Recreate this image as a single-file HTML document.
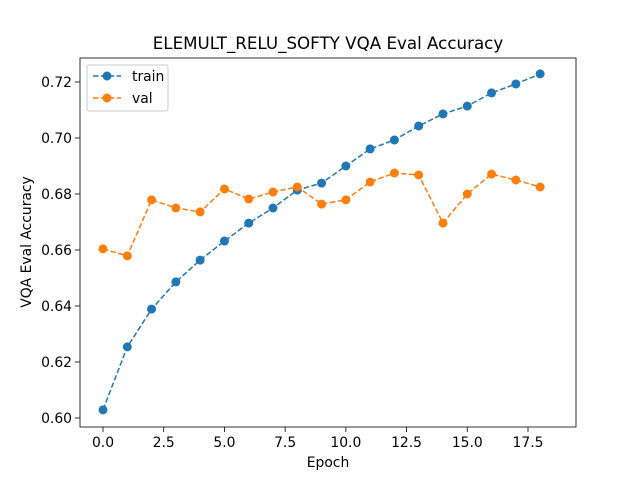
<!DOCTYPE html>
<html><head><meta charset="utf-8"><style>body{margin:0;background:#fff}svg{font-family:"DejaVu Sans","Liberation Sans",sans-serif}</style></head>
<body>
<svg id="chart" width="640" height="480" xmlns="http://www.w3.org/2000/svg">
<rect width="640" height="480" fill="#fff"/>
<text x="328" y="49" font-size="16.7" text-anchor="middle">ELEMULT_RELU_SOFTY VQA Eval Accuracy</text>
<g id="ticks"></g>
<g id="series"></g>
<rect x="80" y="58" width="496" height="369" fill="none" stroke="#000" stroke-width="0.8"/>
<text x="328" y="467" font-size="13.9" text-anchor="middle">Epoch</text>
<text x="31" y="242" font-size="13.9" text-anchor="middle" transform="rotate(-90 31 242)">VQA Eval Accuracy</text>
<g>
<rect x="87" y="65" width="81" height="46" rx="2" fill="#fff" fill-opacity="0.8" stroke="#ccc"/>
<g><line x1="93" y1="76" x2="121" y2="76" stroke="#1f77b4" stroke-width="1.5" stroke-dasharray="5.5,2.4"/><circle cx="107" cy="76" r="4.5" fill="#1f77b4"/><text x="132" y="81" font-size="13.9">train</text></g>
<g><line x1="93" y1="98" x2="121" y2="98" stroke="#ff7f0e" stroke-width="1.5" stroke-dasharray="5.5,2.4"/><circle cx="107" cy="98" r="4.5" fill="#ff7f0e"/><text x="132" y="103" font-size="13.9">val</text></g>
</g>
</svg>
<script>
const epochs=[0,1,2,3,4,5,6,7,8,9,10,11,12,13,14,15,16,17,18];
const trainAcc=[0.6029,0.6254,0.6389,0.6486,0.6564,0.6632,0.6696,0.675,0.6814,0.6839,0.69,0.6961,0.6993,0.7043,0.7086,0.7114,0.7161,0.7193,0.7229];
const valAcc=[0.6604,0.6579,0.6779,0.675,0.6736,0.6818,0.6782,0.6807,0.6825,0.6764,0.6779,0.6843,0.6875,0.6868,0.6696,0.68,0.6871,0.685,0.6825];
const xTicks=[0,2.5,5,7.5,10,12.5,15,17.5];
const xTickLabels=["0.0","2.5","5.0","7.5","10.0","12.5","15.0","17.5"];
const yTicks=[0.60,0.62,0.64,0.66,0.68,0.70,0.72];
const yTickLabels=["0.60","0.62","0.64","0.66","0.68","0.70","0.72"];
const NS="http://www.w3.org/2000/svg";
const xs=e=>103+e*(425/17.5);
const ys=v=>418-(v-0.60)*2800;
function mk(t,a,p){const el=document.createElementNS(NS,t);for(const k in a)el.setAttribute(k,a[k]);p.appendChild(el);return el;}
const tg=document.getElementById('ticks');
xTicks.forEach((t,i)=>{const g=mk('g',{},tg);


mk('line',{x1:xs(t),y1:427,x2:xs(t),y2:432,stroke:'#000','stroke-width':0.8},g);
const tx=mk('text',{x:xs(t),y:447,'font-size':13.9,'text-anchor':'middle'},g);tx.textContent=xTickLabels[i];});
yTicks.forEach((t,i)=>{const g=mk('g',{},tg);


mk('line',{x1:75,y1:ys(t),x2:80,y2:ys(t),stroke:'#000','stroke-width':0.8},g);
const tx=mk('text',{x:72,y:ys(t)+5,'font-size':13.9,'text-anchor':'end'},g);tx.textContent=yTickLabels[i];});
const sg=document.getElementById('series');
function series(vals,color,name){const g=mk('g',{},sg);


mk('polyline',{points:epochs.map((e,i)=>xs(e)+','+ys(vals[i])).join(' '),fill:'none',stroke:color,'stroke-width':1.5,'stroke-dasharray':'5.5,2.4'},g);
epochs.forEach((e,i)=>{const c=mk('circle',{cx:xs(e),cy:ys(vals[i]),r:4.5,fill:color},g);

});}
series(trainAcc,'#1f77b4','train');
series(valAcc,'#ff7f0e','val');
</script>
</body></html>
